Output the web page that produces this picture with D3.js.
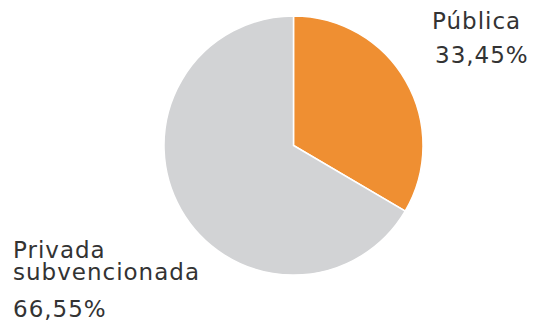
<!DOCTYPE html>
<html><head><meta charset="utf-8">
<script src="https://cdn.jsdelivr.net/npm/d3@7"></script>
<style>html,body{margin:0;padding:0;background:#fff;}svg{display:block;}</style>
</head><body>
<svg id="chart" width="534" height="322"></svg>
<script>
const categories = ["Pública", "Privada subvencionada"];
const values = [33.45, 66.55];
const valueLabels = ["33,45%", "66,55%"];
const colors = ["#EF8F32", "#D2D3D5"];

const svg = d3.select("#chart");
const cx = 293.5, cy = 145.5, r = 129.5;
const pie = d3.pie().sort(null).value(d => d)(values);
const arc = d3.arc().innerRadius(0).outerRadius(r);
const g = svg.append("g").attr("transform", `translate(${cx},${cy})`);
g.selectAll("path").data(pie).join("path")
  .attr("d", arc)
  .attr("fill", (d, i) => colors[i])
  .attr("stroke", "#fff").attr("stroke-width", 1.5);

const font = "DejaVu Sans, Verdana, sans-serif";
const fs = 23;
const txt = (x, y, s) => svg.append("text").attr("x", x).attr("y", y)
  .attr("font-family", font).attr("font-size", fs).attr("letter-spacing", 1)
  .attr("fill", "#333").text(s);
txt(432, 29, categories[0]);
txt(435, 63, valueLabels[0]);
const parts = categories[1].split(" ");
const t2 = svg.append("text").attr("font-family", font).attr("font-size", fs)
  .attr("letter-spacing", 1).attr("fill", "#333");
t2.append("tspan").attr("x", 13).attr("y", 258).text(parts[0]);
t2.append("tspan").attr("x", 13).attr("y", 280).text(parts[1]);
txt(13, 317, valueLabels[1]);
</script>
</body></html>
